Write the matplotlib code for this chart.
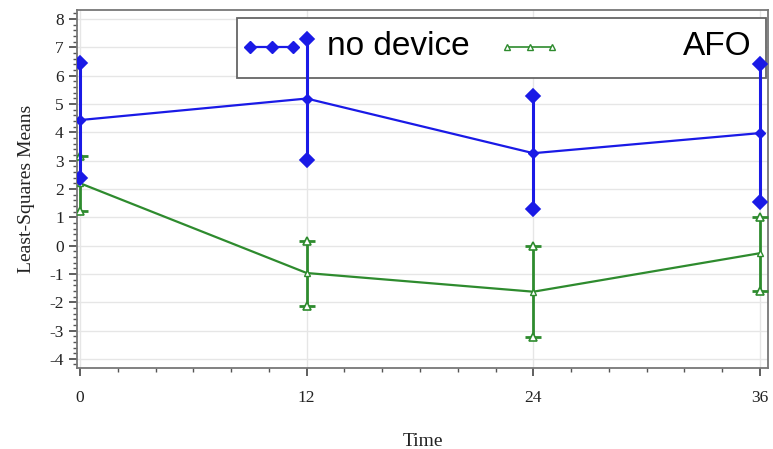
import matplotlib
matplotlib.use("Agg")
import matplotlib.pyplot as plt
from matplotlib.lines import Line2D
from matplotlib.patches import Rectangle
from matplotlib.ticker import MultipleLocator

# --- data ---
time = [0, 12, 24, 36]

nodev_mean = [4.43, 5.19, 3.26, 3.97]
nodev_upper = [6.46, 7.30, 5.28, 6.40]
nodev_lower = [2.40, 3.02, 1.28, 1.52]

afo_mean = [2.20, -0.97, -1.63, -0.27]
afo_upper = [3.17, 0.17, -0.03, 1.02]
afo_lower = [1.23, -2.15, -3.24, -1.60]

series_labels = ["no device", "AFO"]
xticks = [0, 12, 24, 36]

BLUE = "#1a1ae6"
GREEN = "#2e8b2e"

plt.rcParams["font.family"] = ["Liberation Serif", "DejaVu Serif"]
plt.rcParams["axes.unicode_minus"] = False

fig = plt.figure(figsize=(7.73, 4.49), dpi=100)
ax = fig.add_axes([0.0996, 0.18, 0.8939, 0.798])


def draw_series(mean, lo, hi, color, marker, filled, z):
    mfc = color if filled else "white"
    for t, m, l, h in zip(time, mean, lo, hi):
        ax.plot([t, t], [l, h], color=color, lw=2.2 if filled else 2.0,
                zorder=z, solid_capstyle="butt")
        if not filled:
            ax.plot([t, t], [h, l], ls="none", marker="_", ms=11, mew=2,
                    color=color, zorder=z)
        ax.plot([t, t], [l, h], ls="none", marker=marker, ms=7 if filled else 6,
                mfc=mfc, mec=color, mew=1.2, zorder=z + 0.5)
    ax.plot(time, mean, color=color, lw=1.6, zorder=z,
            marker=marker, ms=5, mfc=mfc, mec=color, mew=1)


draw_series(afo_mean, afo_lower, afo_upper, GREEN, "^", False, 4)
draw_series(nodev_mean, nodev_lower, nodev_upper, BLUE, "D", True, 5)

ax.set_xlim(-0.16, 36.42)
ax.set_ylim(-4.33, 8.32)
ax.set_xticks(xticks)
ax.xaxis.set_minor_locator(MultipleLocator(2))
ax.yaxis.set_major_locator(MultipleLocator(1))
ax.yaxis.set_minor_locator(MultipleLocator(0.2))
ax.tick_params(axis="both", which="major", direction="out", length=6,
               width=1.2, color="#444444", labelsize=12.5, labelcolor="#222222")
ax.tick_params(axis="x", which="major", pad=10)
ax.tick_params(axis="both", which="minor", direction="out", length=3,
               width=1, color="#555555")
ax.grid(True, which="major", color="#e6e6e6", lw=1, zorder=0)
ax.set_axisbelow(True)
for s in ax.spines.values():
    s.set_color("#777777")
    s.set_linewidth(1.3)

ax.set_xlabel("Time", fontsize=14, color="#222222", labelpad=19)
ax.set_ylabel("Least-Squares Means", fontsize=14, color="#222222", labelpad=10)

# legend box drawn in axes coordinates
tr = ax.transAxes
x0, x1 = (237 - 77) / 691, (766 - 77) / 691
y0, y1 = (368 - 78) / 358, (368 - 18) / 358
ax.add_patch(Rectangle((x0, y0), x1 - x0, y1 - y0, transform=tr,
                       facecolor="white", edgecolor="#666666", lw=1.3, zorder=2))
yc = (368 - 47) / 358
ax.add_line(Line2D([(250 - 77) / 691, (296 - 77) / 691], [yc, yc], transform=tr,
                   color=BLUE, lw=1.6, zorder=3))
ax.add_line(Line2D([(250 - 77) / 691, (272 - 77) / 691, (293 - 77) / 691], [yc] * 3,
                   transform=tr, ls="none", marker="D", ms=6, color=BLUE, zorder=3))
ax.add_line(Line2D([(507 - 77) / 691, (552 - 77) / 691], [yc, yc], transform=tr,
                   color=GREEN, lw=1.2, zorder=3))
ax.add_line(Line2D([(507 - 77) / 691, (530 - 77) / 691, (552 - 77) / 691], [yc] * 3,
                   transform=tr, ls="none", marker="^", ms=5, mfc="white",
                   mec=GREEN, zorder=3))
ax.text((327 - 77) / 691, yc, series_labels[0], transform=tr, fontsize=24,
        family=["Liberation Sans"], va="center", ha="left", zorder=3)
ax.text((752 - 77) / 691, yc, series_labels[1], transform=tr, fontsize=24,
        family=["Liberation Sans"], va="center", ha="right", zorder=3)

fig.savefig("out.png", dpi=100)
